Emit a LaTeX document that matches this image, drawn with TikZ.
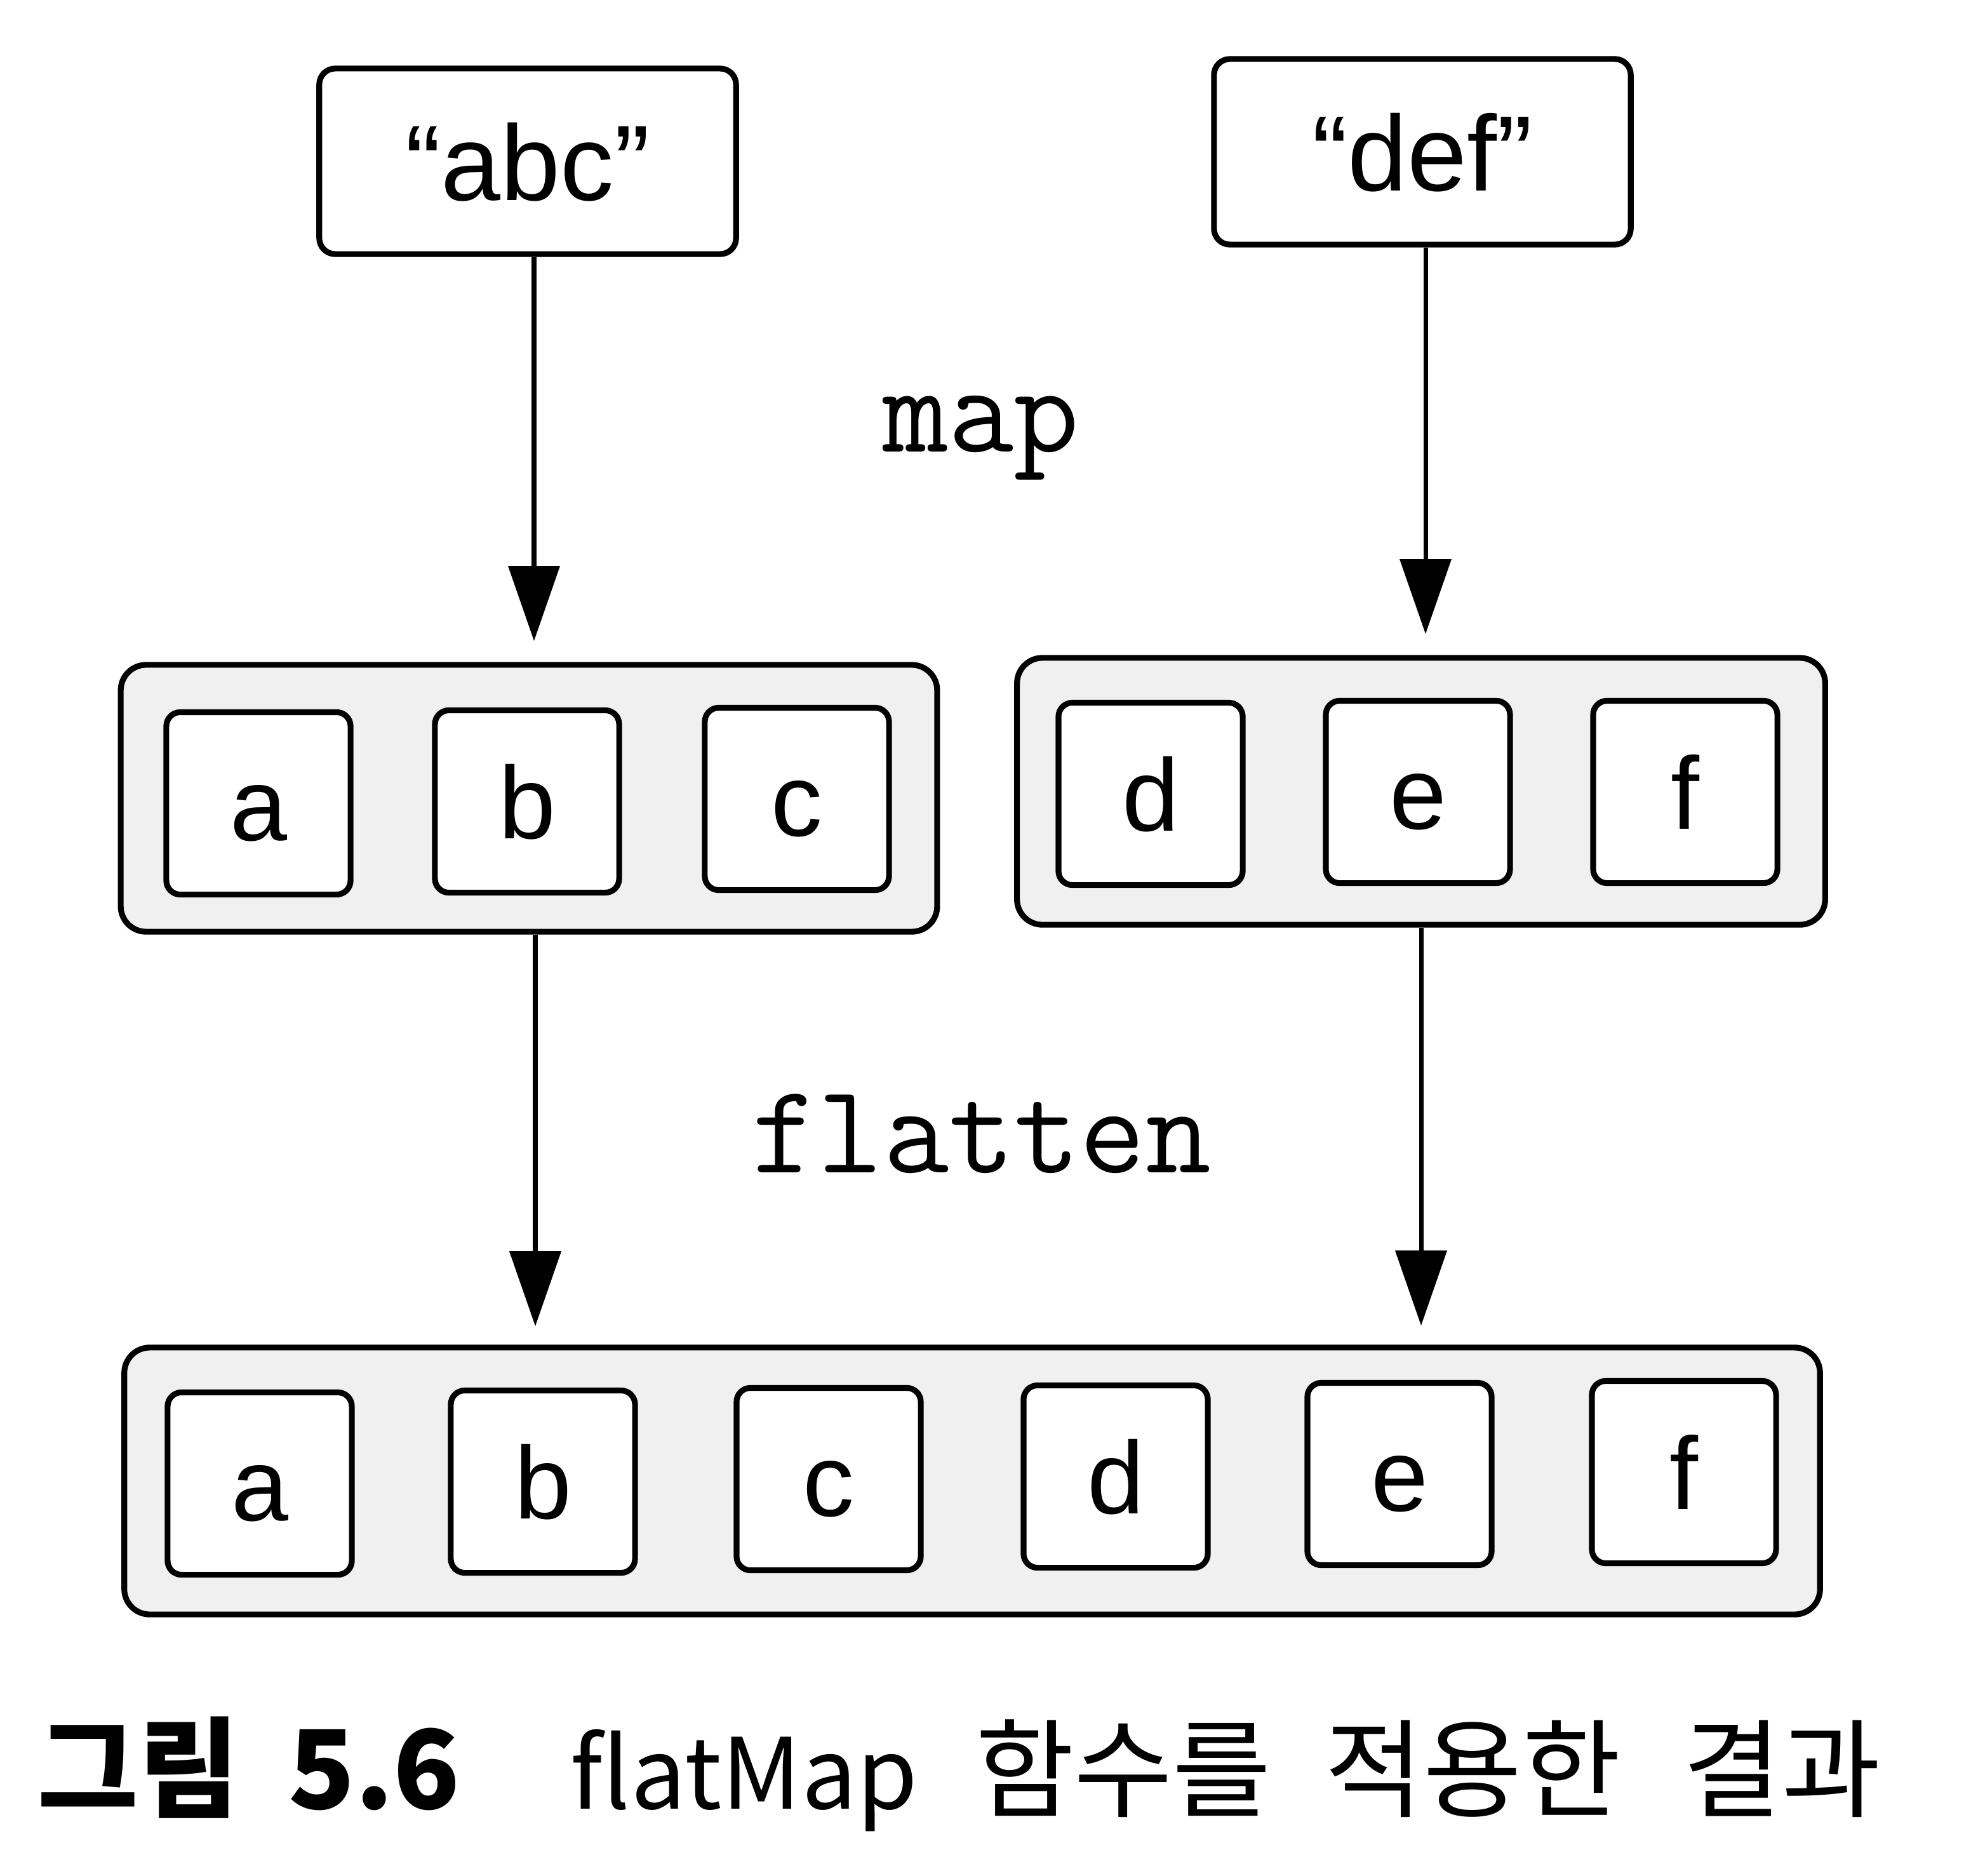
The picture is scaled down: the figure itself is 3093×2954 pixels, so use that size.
\documentclass[tikz,border=0pt]{standalone}
\usepackage{fontspec}
\setmainfont{Liberation Sans}
\newfontfamily\cjk{Noto Sans CJK KR}
\usetikzlibrary{arrows.meta}
\begin{document}
\begin{tikzpicture}[x=0.01cm,y=-0.01cm,
  topbox/.style={draw, line width=2.6pt, rounded corners=0.25cm, inner sep=0pt,
    minimum width=6.56cm, minimum height=2.92cm, text height=35pt, text depth=0pt,
    font=\fontsize{48}{56}\selectfont},
  cont/.style={draw, line width=2.6pt, fill=black!6, rounded corners=0.4cm, inner sep=0pt,
    minimum height=4.2cm},
  cell/.style={draw, line width=2.6pt, fill=white, rounded corners=0.22cm, inner sep=0pt,
    minimum width=2.9cm, minimum height=2.87cm, text height=33pt, text depth=0pt,
    font=\fontsize{46}{54}\selectfont},
  lbl/.style={inner sep=0pt, font=\ttfamily\fontsize{57}{66}\selectfont},
  arr/.style={-{Triangle[width=0.8cm,length=1.18cm]}, line width=2pt}]
\fill[white] (0,0) rectangle (3093,2954);
\useasboundingbox (0,0) rectangle (3093,2954);

% top boxes
\node[topbox] (abc) at (831,254) {“abc”};
\node[topbox] (def) at (2240,239) {“def”};

% containers
\node[cont, minimum width=12.85cm] (c1) at (833,1257) {};
\node[cont, minimum width=12.72cm] (c2) at (2238,1246) {};
\node[cont, minimum width=26.69cm] (c3) at (1531,2332) {};

% row 1 cells
\node[cell] (a1) at (407,1265) {a};
\node[cell] (b1) at (830,1262) {b};
\node[cell] (cc1) at (1255,1258) {c};
\node[cell] (d2) at (1812,1250) {d};
\node[cell] (e2) at (2233,1247) {e};
\node[cell] (f2) at (2654,1247) {f};

% row 3 cells
\node[cell] (a3) at (409,2336) {a};
\node[cell] (b3) at (855,2333) {b};
\node[cell] (c3c) at (1305,2329) {c};
\node[cell] (d3) at (1757,2325) {d};
\node[cell] (e3) at (2204,2321) {e};
\node[cell] (f3) at (2652,2318) {f};

% labels
\node[lbl] (map) at (1545,690) {map};
\node[lbl] (flat) at (1546,1785) {flatten};

% arrows
\draw[arr, shorten >=0.33cm] ([xshift=0.1cm]abc.south) -- ([xshift=0.1cm]abc.south |- c1.north);
\draw[arr, shorten >=0.33cm] ([xshift=0.05cm]def.south) -- ([xshift=0.05cm]def.south |- c2.north);
\draw[arr, shorten >=0.29cm] ([xshift=0.1cm]c1.south) -- ([xshift=0.1cm]c1.south |- c3.north);
\draw[arr, shorten >=0.3cm] (c2.south) -- (c2.south |- c3.north);

% caption
\node[anchor=base west, inner sep=0pt, font=\cjk\bfseries\fontsize{49}{56}\selectfont] (fig) at (59,2848) {그림\hspace{0.45em}5.6};
\node[anchor=base west, inner sep=0pt, font=\cjk\fontsize{44}{52}\selectfont] (cap) at (898,2848) {flatMap\hspace{26pt}{\fontsize{48}{56}\selectfont 함수를\hspace{24pt}적용한\hspace{28pt}결과}};
\end{tikzpicture}
\end{document}
